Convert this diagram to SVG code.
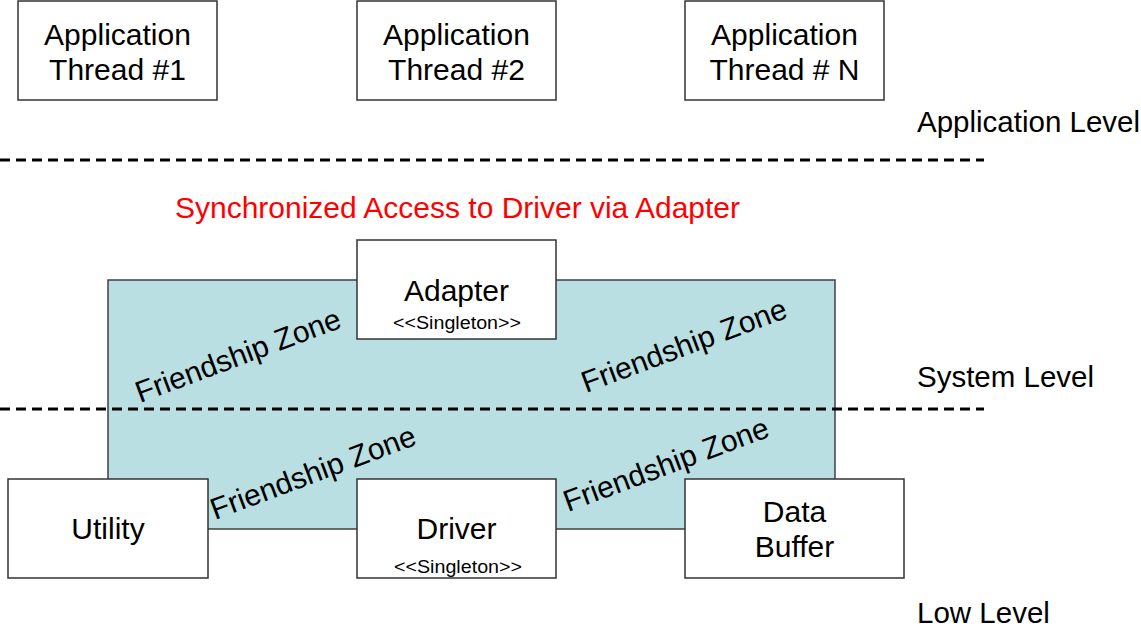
<svg xmlns="http://www.w3.org/2000/svg" width="1141" height="631" viewBox="0 0 1141 631">
  <style>
    .box { fill: #ffffff; stroke: #333333; stroke-width: 1.5; }
    .zone { fill: #B9DFE3; stroke: #404040; stroke-width: 1.5; }
    .sep { stroke: #000000; stroke-width: 3; stroke-dasharray: 10 6; fill: none; }
    .t { font-family: "Liberation Sans", Arial, sans-serif; font-size: 30px; fill: #000000; }
    .lvl { font-size: 29.5px; }
    .c { text-anchor: middle; }
    .s { font-family: "Liberation Sans", Arial, sans-serif; font-size: 17.5px; fill: #000000; text-anchor: middle; }
    .red { fill: #FF0000; }
  </style>
  <rect width="1141" height="631" fill="#ffffff"/>

  <g id="friendship-zone">
    <rect class="zone" x="108" y="280" width="727" height="249"/>
    <text class="t" transform="translate(140,403) rotate(-20.5)">Friendship Zone</text>
    <text class="t" transform="translate(586,393) rotate(-20.5)">Friendship Zone</text>
    <text class="t" transform="translate(215,520) rotate(-20.5)">Friendship Zone</text>
    <text class="t" transform="translate(568,512) rotate(-20.5)">Friendship Zone</text>
  </g>

  <g id="connectors">
    <line class="sep" x1="0" y1="160" x2="984" y2="160"/>
    <line class="sep" x1="0" y1="409" x2="984" y2="409"/>
  </g>

  <g id="app-thread-1">
    <rect class="box" x="18" y="1" width="199" height="99"/>
    <text class="t c" x="117.5" y="45">Application</text>
    <text class="t c" x="117.5" y="80">Thread #1</text>
  </g>
  <g id="app-thread-2">
    <rect class="box" x="357" y="1" width="199" height="99"/>
    <text class="t c" x="456.5" y="45">Application</text>
    <text class="t c" x="456.5" y="80">Thread #2</text>
  </g>
  <g id="app-thread-n">
    <rect class="box" x="685" y="1" width="199" height="99"/>
    <text class="t c" x="784.5" y="45">Application</text>
    <text class="t c" x="784.5" y="80">Thread # N</text>
  </g>

  <g id="title">
    <text class="t red" x="175" y="218" textLength="565" lengthAdjust="spacingAndGlyphs">Synchronized Access to Driver via Adapter</text>
  </g>

  <g id="adapter">
    <rect class="box" x="357" y="240" width="199" height="99"/>
    <text class="t c" x="456.5" y="301">Adapter</text>
    <text class="s" x="457" y="329" textLength="128" lengthAdjust="spacingAndGlyphs">&lt;&lt;Singleton&gt;&gt;</text>
  </g>

  <g id="utility">
    <rect class="box" x="8" y="479" width="200" height="99"/>
    <text class="t c" x="108" y="539">Utility</text>
  </g>
  <g id="driver">
    <rect class="box" x="357" y="479" width="199" height="99"/>
    <text class="t c" x="456.5" y="539">Driver</text>
    <text class="s" x="458" y="573" textLength="128" lengthAdjust="spacingAndGlyphs">&lt;&lt;Singleton&gt;&gt;</text>
  </g>
  <g id="data-buffer">
    <rect class="box" x="685" y="479" width="219" height="99"/>
    <text class="t c" x="794.5" y="522">Data</text>
    <text class="t c" x="794.5" y="557">Buffer</text>
  </g>

  <g id="level-labels">
    <text class="t lvl" x="917" y="132">Application Level</text>
    <text class="t lvl" x="917" y="387">System Level</text>
    <text class="t lvl" x="917" y="623">Low Level</text>
  </g>
</svg>
